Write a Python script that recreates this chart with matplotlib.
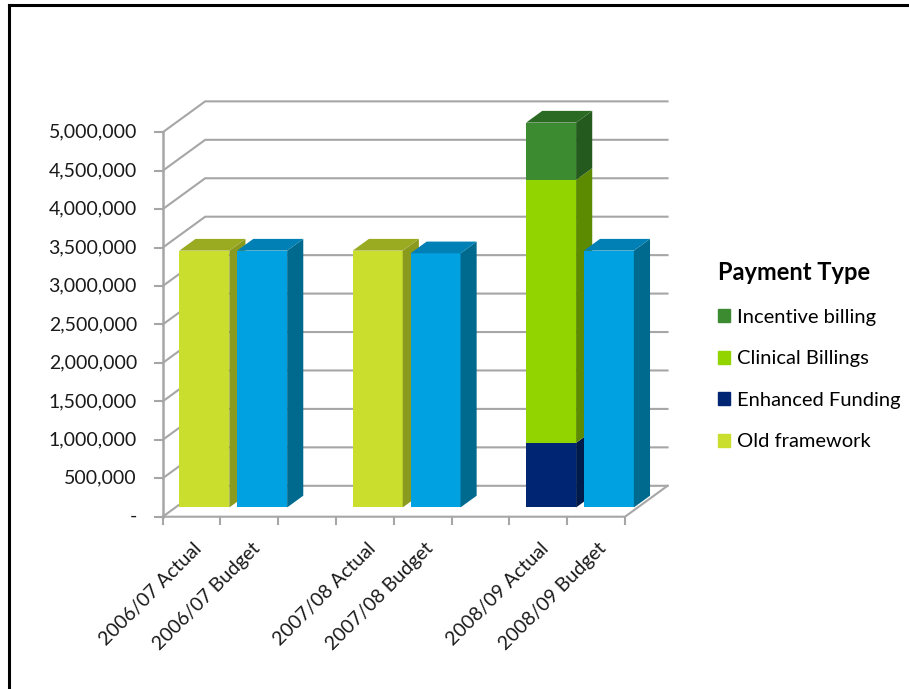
import matplotlib.pyplot as plt
from matplotlib.patches import Patch
from matplotlib.lines import Line2D

plt.rcParams['font.family'] = ['Lato', 'DejaVu Sans']

categories = ["2006/07 Actual", "2006/07 Budget", "",
              "2007/08 Actual", "2007/08 Budget", "",
              "2008/09 Actual", "2008/09 Budget"]

old_framework = [3340000, 0, 0, 3340000, 0, 0, 0, 0]
budget = [0, 3340000, 0, 0, 3305000, 0, 0, 3340000]
enhanced_funding = [0, 0, 0, 0, 0, 0, 840000, 0]
clinical_billings = [0, 0, 0, 0, 0, 0, 3420000, 0]
incentive_billing = [0, 0, 0, 0, 0, 0, 745000, 0]

y_ticks = [0, 500000, 1000000, 1500000, 2000000, 2500000,
           3000000, 3500000, 4000000, 4500000, 5000000]
y_labels = ["-", "500,000", "1,000,000", "1,500,000", "2,000,000", "2,500,000",
            "3,000,000", "3,500,000", "4,000,000", "4,500,000", "5,000,000"]

# face colours: (front, side, top)
styles = {
    "Old framework": ("#cade2e", "#8a9a1e", "#9aab22"),
    "Budget": ("#00a1e0", "#006a8e", "#0080b4"),
    "Enhanced Funding": ("#002673", "#001a4a", "#001f5c"),
    "Clinical Billings": ("#92d400", "#5c8a00", "#6fa000"),
    "Incentive billing": ("#3d8b30", "#245a1e", "#2a6a22"),
}

# fake 3d: offset of the back wall in data units
DX = 0.735
DY = 402000
F0, F1 = 0.30, 0.68   # bar depth range as fraction of the wall depth
BAR_W = 0.865
GRID = "#a6a6a6"

fig = plt.figure(figsize=(9.09, 6.89), dpi=100)
ax = fig.add_axes([100 / 909, 129 / 689, 600 / 909, 500 / 689])
ax.set_xlim(-1.085, 9.297)
ax.set_ylim(-563000, 5940000)
ax.axis("off")

n = len(categories)

# back wall gridlines, left wall diagonals, value axis ticks
for v in y_ticks:
    ax.plot([0, DX, n + DX], [v, v + DY, v + DY], color=GRID, lw=1.5,
            solid_joinstyle="miter", zorder=1)
    ax.plot([-0.13, 0], [v, v], color=GRID, lw=1.5, zorder=1)
ax.plot([0, 0], [0, y_ticks[-1]], color=GRID, lw=1.8, zorder=1)

# floor edges and category ticks
ax.plot([0, n, n + DX], [0, 0, DY], color=GRID, lw=1.5, zorder=1)
for i in range(n + 1):
    ax.plot([i, i], [0, -95000], color=GRID, lw=1.5, zorder=1)


def draw_box(i, v0, v1, colors, top=True):
    front, side, topc = colors
    x0 = i + 0.5 - BAR_W / 2
    x1 = i + 0.5 + BAR_W / 2
    a_x, a_y = F0 * DX, F0 * DY
    b_x, b_y = F1 * DX, F1 * DY
    ax.fill([x0 + a_x, x1 + a_x, x1 + a_x, x0 + a_x],
            [v0 + a_y, v0 + a_y, v1 + a_y, v1 + a_y],
            color=front, lw=0, zorder=3)
    ax.fill([x1 + a_x, x1 + b_x, x1 + b_x, x1 + a_x],
            [v0 + a_y, v0 + b_y, v1 + b_y, v1 + a_y],
            color=side, lw=0, zorder=3)
    if top:
        ax.fill([x0 + a_x, x1 + a_x, x1 + b_x, x0 + b_x],
                [v1 + a_y, v1 + a_y, v1 + b_y, v1 + b_y],
                color=topc, lw=0, zorder=3)


stack = [("Old framework", old_framework),
         ("Budget", budget),
         ("Enhanced Funding", enhanced_funding),
         ("Clinical Billings", clinical_billings),
         ("Incentive billing", incentive_billing)]

for i in range(n):
    base = 0
    parts = [(name, vals[i]) for name, vals in stack if vals[i] > 0]
    for k, (name, val) in enumerate(parts):
        draw_box(i, base, base + val, styles[name], top=(k == len(parts) - 1))
        base += val

# value labels
for v, lab in zip(y_ticks, y_labels):
    ax.text(-0.445, v, lab, ha="right", va="center", fontsize=14, color="#1a1a1a")

# category labels
for i, lab in enumerate(categories):
    if lab:
        ax.text(i + 0.53, -300000, lab, rotation=45, rotation_mode="anchor",
                ha="right", va="top", fontsize=14, color="#1a1a1a")

handles = [Patch(color=styles[name][0], label=name)
           for name in ["Incentive billing", "Clinical Billings",
                        "Enhanced Funding", "Old framework"]]
leg = fig.legend(handles=handles, title="Payment Type", loc="upper left",
                 bbox_to_anchor=(700 / 909, 1 - 243 / 689), frameon=False,
                 fontsize=14.5, handlelength=0.6, handleheight=0.6,
                 handletextpad=0.35, labelspacing=1.22)
leg.get_title().set_fontweight("bold")
leg.get_title().set_fontsize(17)
leg._legend_box.align = "left"

# outer border (left and top only)
fig.add_artist(Line2D([9 / 909, 9 / 909], [0, 1 - 5 / 689], color="black",
                      lw=2.2, transform=fig.transFigure))
fig.add_artist(Line2D([9 / 909, 1], [1 - 5 / 689, 1 - 5 / 689], color="black",
                      lw=2.2, transform=fig.transFigure))

fig.savefig("out.png", dpi=100, facecolor="white")
